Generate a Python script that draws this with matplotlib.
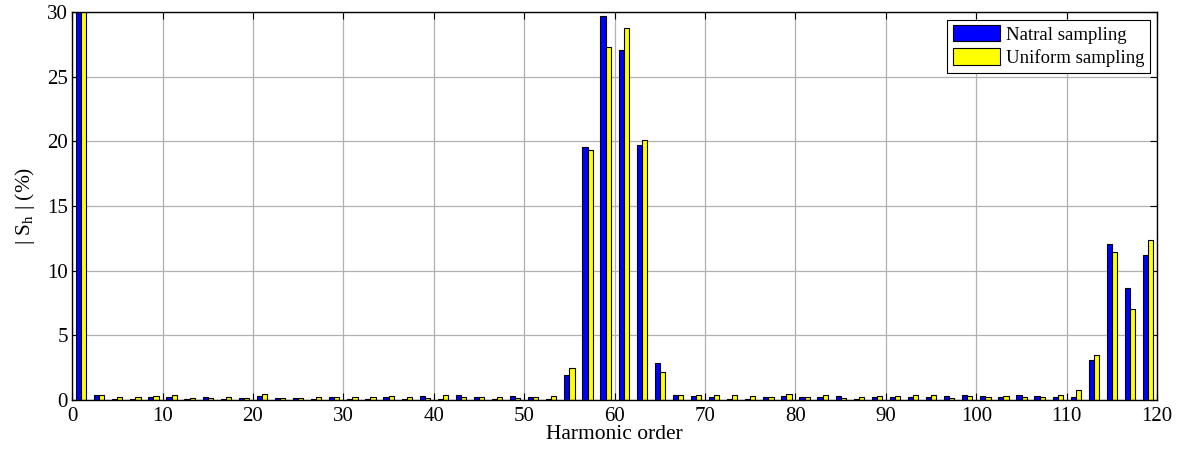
import matplotlib
matplotlib.use('Agg')
import matplotlib.pyplot as plt
import numpy as np

plt.rcParams['font.family'] = ['Liberation Serif', 'DejaVu Serif']
plt.rcParams['mathtext.fontset'] = 'custom'
plt.rcParams['mathtext.rm'] = 'Liberation Serif'
plt.rcParams['mathtext.it'] = 'Liberation Serif:italic'

# odd harmonic orders 1..119
harmonics = list(range(1, 120, 2))

# natural sampling spectrum (%), fundamental runs off the top of the axis
natural = [100.0, 0.36, 0.08, 0.08, 0.20, 0.20, 0.10, 0.26, 0.08, 0.18,
           0.28, 0.18, 0.18, 0.08, 0.20, 0.08, 0.08, 0.20, 0.08, 0.28,
           0.08, 0.36, 0.20, 0.08, 0.28, 0.20, 0.05, 1.94, 19.56, 29.70,
           27.05, 19.70, 2.84, 0.40, 0.30, 0.20, 0.08, 0.08, 0.20, 0.28,
           0.20, 0.20, 0.28, 0.08, 0.20, 0.20, 0.20, 0.20, 0.28, 0.36,
           0.28, 0.20, 0.36, 0.28, 0.20, 0.20, 3.13, 12.10, 8.68, 11.24]

# uniform sampling spectrum (%)
uniform = [100.0, 0.36, 0.26, 0.26, 0.28, 0.36, 0.18, 0.13, 0.26, 0.13,
           0.49, 0.18, 0.18, 0.26, 0.26, 0.26, 0.26, 0.28, 0.26, 0.13,
           0.36, 0.20, 0.20, 0.20, 0.18, 0.20, 0.28, 2.46, 19.33, 27.30,
           28.80, 20.15, 2.17, 0.40, 0.36, 0.36, 0.36, 0.28, 0.20, 0.44,
           0.20, 0.36, 0.18, 0.20, 0.28, 0.28, 0.36, 0.36, 0.13, 0.28,
           0.20, 0.28, 0.20, 0.20, 0.36, 0.78, 3.49, 11.47, 7.08, 12.35]

fig = plt.figure(figsize=(11.82, 4.5), dpi=100)
ax = fig.add_axes([0.061, 0.111, 0.918, 0.862])

x = np.array(harmonics)
w = 0.57
ax.bar(x - w / 2, natural, width=w, color='#0000ff', edgecolor='black',
       linewidth=0.8, label='Natral sampling', zorder=3)
ax.bar(x + w / 2, uniform, width=w, color='#ffff00', edgecolor='black',
       linewidth=0.8, label='Uniform sampling', zorder=3)

ax.set_xlim(0, 120)
ax.set_ylim(0, 30)
ax.set_xticks(np.arange(0, 121, 10))
ax.set_yticks(np.arange(0, 31, 5))
ax.grid(True, color='#b0b0b0', linewidth=0.9, zorder=0)
ax.tick_params(direction='in', top=True, right=True, labelsize=15,
               length=5, width=0.8)
ax.tick_params(axis='x', pad=5)
ax.tick_params(axis='y', pad=3)
for s in ax.spines.values():
    s.set_linewidth(1.0)
    s.set_zorder(4)

ax.set_xlabel('Harmonic order', fontsize=15.5, labelpad=-1)
ax.set_ylabel(r'| S$_\mathrm{h}$ | (%)', fontsize=15.5, labelpad=7)

leg = ax.legend(loc='upper right', fontsize=13.5, fancybox=False,
                framealpha=1, edgecolor='black', borderpad=0.3,
                handlelength=2.5, handleheight=0.95, handletextpad=0.3,
                labelspacing=0.25, borderaxespad=0.4)
leg.get_frame().set_linewidth(0.8)

fig.savefig('out.png', dpi=100)
